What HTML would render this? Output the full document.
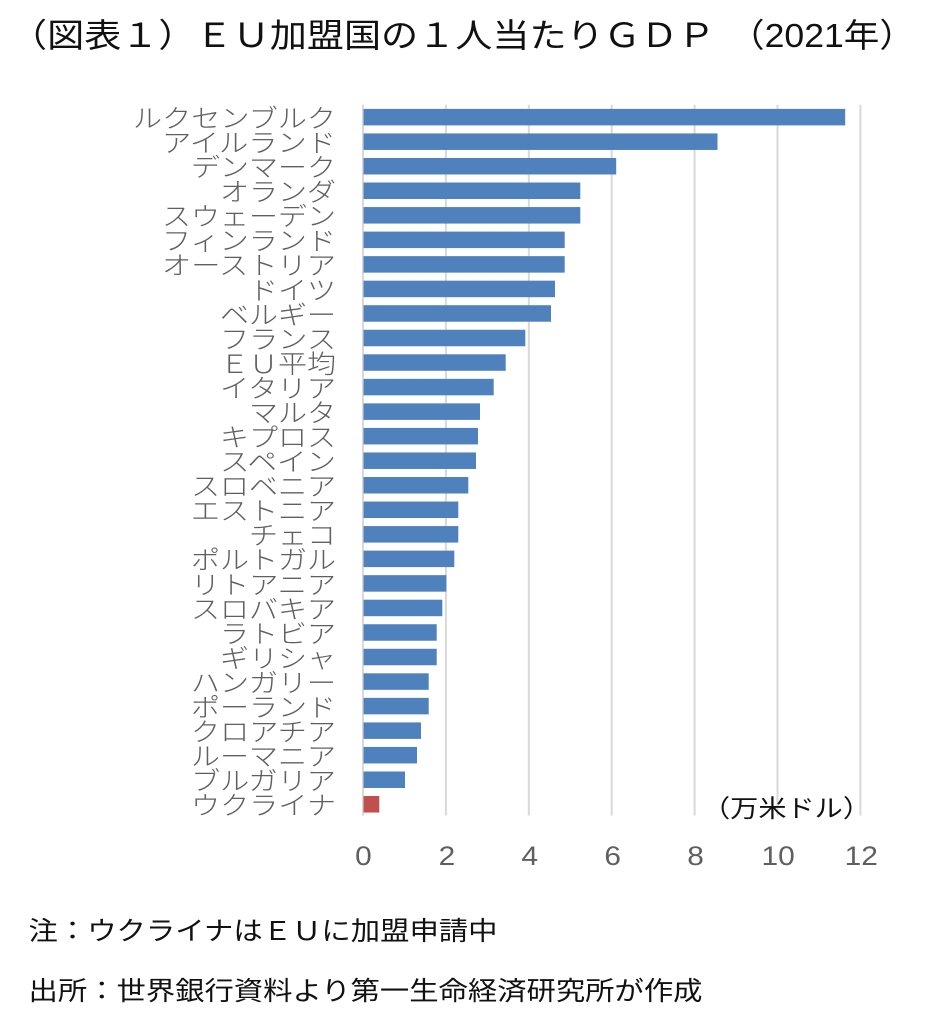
<!DOCTYPE html>
<html><head><meta charset="utf-8"><style>
html,body{margin:0;padding:0;background:#fff;}
svg{display:block;}
text{font-family:"Liberation Sans","Noto Sans CJK JP",sans-serif;}
</style></head><body>
<svg width="930" height="1018" viewBox="0 0 930 1018" xmlns="http://www.w3.org/2000/svg">
<rect width="930" height="1018" fill="#fff"/>
<!-- title -->
<text x="10" y="47" font-size="33" fill="#111" textLength="705" lengthAdjust="spacingAndGlyphs">（図表１）ＥＵ加盟国の１人当たりＧＤＰ</text>
<text x="729" y="47" font-size="33" fill="#111" textLength="186" lengthAdjust="spacingAndGlyphs">（2021年）</text>

<!-- gridlines -->
<g stroke="#d9d9d9" stroke-width="2">
<line x1="363" y1="104.7" x2="363" y2="815.5"/>
<line x1="445.9" y1="104.7" x2="445.9" y2="815.5"/>
<line x1="528.8" y1="104.7" x2="528.8" y2="815.5"/>
<line x1="611.7" y1="104.7" x2="611.7" y2="815.5"/>
<line x1="694.6" y1="104.7" x2="694.6" y2="815.5"/>
<line x1="777.5" y1="104.7" x2="777.5" y2="815.5"/>
<line x1="860.4" y1="104.7" x2="860.4" y2="815.5"/>
</g>

<!-- bars -->
<g fill="#4f81bd">
<rect x="363.5" y="108.9" width="481.7" height="16.5"/>
<rect x="363.5" y="133.44" width="354" height="16.5"/>
<rect x="363.5" y="157.98" width="252.7" height="16.5"/>
<rect x="363.5" y="182.52" width="216.8" height="16.5"/>
<rect x="363.5" y="207.06" width="216.8" height="16.5"/>
<rect x="363.5" y="231.6" width="201.2" height="16.5"/>
<rect x="363.5" y="256.14" width="201.2" height="16.5"/>
<rect x="363.5" y="280.68" width="191.5" height="16.5"/>
<rect x="363.5" y="305.22" width="187.5" height="16.5"/>
<rect x="363.5" y="329.76" width="161.8" height="16.5"/>
<rect x="363.5" y="354.3" width="142.2" height="16.5"/>
<rect x="363.5" y="378.84" width="130.2" height="16.5"/>
<rect x="363.5" y="403.38" width="116.5" height="16.5"/>
<rect x="363.5" y="427.92" width="114.5" height="16.5"/>
<rect x="363.5" y="452.46" width="112.5" height="16.5"/>
<rect x="363.5" y="477" width="104.8" height="16.5"/>
<rect x="363.5" y="501.54" width="94.8" height="16.5"/>
<rect x="363.5" y="526.08" width="94.8" height="16.5"/>
<rect x="363.5" y="550.62" width="90.8" height="16.5"/>
<rect x="363.5" y="575.16" width="82.8" height="16.5"/>
<rect x="363.5" y="599.7" width="78.8" height="16.5"/>
<rect x="363.5" y="624.24" width="73.2" height="16.5"/>
<rect x="363.5" y="648.78" width="73.2" height="16.5"/>
<rect x="363.5" y="673.32" width="65.2" height="16.5"/>
<rect x="363.5" y="697.86" width="65.2" height="16.5"/>
<rect x="363.5" y="722.4" width="57.5" height="16.5"/>
<rect x="363.5" y="746.94" width="53.5" height="16.5"/>
<rect x="363.5" y="771.48" width="41.5" height="16.5"/>
</g>
<rect x="363.5" y="796.02" width="15.8" height="16.5" fill="#c0504d"/>

<!-- category labels -->
<g font-size="25.5" fill="#5f5f5f" font-weight="300">
<text x="133" y="127.5" textLength="203" lengthAdjust="spacingAndGlyphs">ルクセンブルク</text>
<text x="162" y="152.04" textLength="174" lengthAdjust="spacingAndGlyphs">アイルランド</text>
<text x="191" y="176.58" textLength="145" lengthAdjust="spacingAndGlyphs">デンマーク</text>
<text x="220" y="201.12" textLength="116" lengthAdjust="spacingAndGlyphs">オランダ</text>
<text x="162" y="225.66" textLength="174" lengthAdjust="spacingAndGlyphs">スウェーデン</text>
<text x="162" y="250.2" textLength="174" lengthAdjust="spacingAndGlyphs">フィンランド</text>
<text x="162" y="274.74" textLength="174" lengthAdjust="spacingAndGlyphs">オーストリア</text>
<text x="249" y="299.28" textLength="87" lengthAdjust="spacingAndGlyphs">ドイツ</text>
<text x="220" y="323.82" textLength="116" lengthAdjust="spacingAndGlyphs">ベルギー</text>
<text x="220" y="348.36" textLength="116" lengthAdjust="spacingAndGlyphs">フランス</text>
<text x="220" y="372.9" textLength="116" lengthAdjust="spacingAndGlyphs">ＥＵ平均</text>
<text x="220" y="397.44" textLength="116" lengthAdjust="spacingAndGlyphs">イタリア</text>
<text x="249" y="421.98" textLength="87" lengthAdjust="spacingAndGlyphs">マルタ</text>
<text x="220" y="446.52" textLength="116" lengthAdjust="spacingAndGlyphs">キプロス</text>
<text x="220" y="471.06" textLength="116" lengthAdjust="spacingAndGlyphs">スペイン</text>
<text x="191" y="495.6" textLength="145" lengthAdjust="spacingAndGlyphs">スロベニア</text>
<text x="191" y="520.14" textLength="145" lengthAdjust="spacingAndGlyphs">エストニア</text>
<text x="249" y="544.68" textLength="87" lengthAdjust="spacingAndGlyphs">チェコ</text>
<text x="191" y="569.22" textLength="145" lengthAdjust="spacingAndGlyphs">ポルトガル</text>
<text x="191" y="593.76" textLength="145" lengthAdjust="spacingAndGlyphs">リトアニア</text>
<text x="191" y="618.3" textLength="145" lengthAdjust="spacingAndGlyphs">スロバキア</text>
<text x="220" y="642.84" textLength="116" lengthAdjust="spacingAndGlyphs">ラトビア</text>
<text x="220" y="667.38" textLength="116" lengthAdjust="spacingAndGlyphs">ギリシャ</text>
<text x="191" y="691.92" textLength="145" lengthAdjust="spacingAndGlyphs">ハンガリー</text>
<text x="191" y="716.46" textLength="145" lengthAdjust="spacingAndGlyphs">ポーランド</text>
<text x="191" y="741" textLength="145" lengthAdjust="spacingAndGlyphs">クロアチア</text>
<text x="191" y="765.54" textLength="145" lengthAdjust="spacingAndGlyphs">ルーマニア</text>
<text x="191" y="790.08" textLength="145" lengthAdjust="spacingAndGlyphs">ブルガリア</text>
<text x="191" y="814.62" textLength="145" lengthAdjust="spacingAndGlyphs">ウクライナ</text>
</g>

<!-- unit label -->
<text x="702" y="817" font-size="24.5" fill="#111" textLength="169" lengthAdjust="spacingAndGlyphs">（万米ドル）</text>

<!-- x tick labels -->
<g font-size="26.5" fill="#5f5f5f" font-weight="300">
<text x="355.2" y="865" textLength="16.6" lengthAdjust="spacingAndGlyphs">0</text>
<text x="438.6" y="865" textLength="16.6" lengthAdjust="spacingAndGlyphs">2</text>
<text x="521.5" y="865" textLength="16.6" lengthAdjust="spacingAndGlyphs">4</text>
<text x="604.4" y="865" textLength="16.6" lengthAdjust="spacingAndGlyphs">6</text>
<text x="687.3" y="865" textLength="16.6" lengthAdjust="spacingAndGlyphs">8</text>
<text x="761.5" y="865" textLength="33.3" lengthAdjust="spacingAndGlyphs">10</text>
<text x="844.6" y="865" textLength="33.3" lengthAdjust="spacingAndGlyphs">12</text>
</g>

<!-- notes -->
<text x="28.5" y="940" font-size="26" fill="#111" textLength="469" lengthAdjust="spacingAndGlyphs">注：ウクライナはＥＵに加盟申請中</text>
<text x="28.5" y="1000" font-size="26" fill="#111" textLength="674" lengthAdjust="spacingAndGlyphs">出所：世界銀行資料より第一生命経済研究所が作成</text>
</svg>
</body></html>
